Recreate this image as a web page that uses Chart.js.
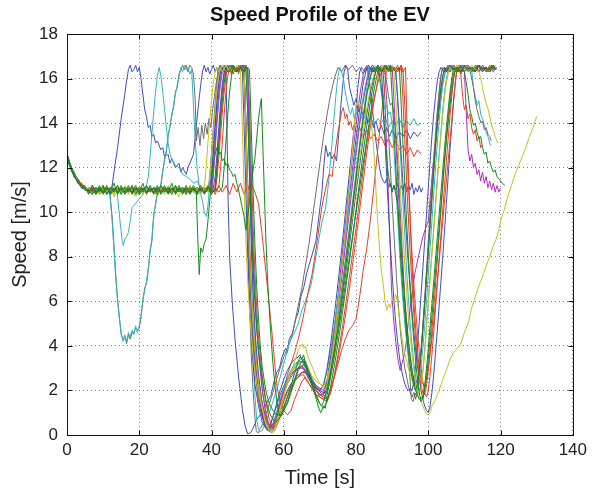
<!DOCTYPE html>
<html>
  <head>
    <meta charset="utf-8">
    <title>Speed Profile of the EV</title>
    <style>
      html, body { margin: 0; padding: 0; background: #fff; }
      #wrap { position: relative; width: 592px; height: 492px; }
    </style>
    <script src="https://cdn.jsdelivr.net/npm/chart.js@4.4.1/dist/chart.umd.min.js"></script>
  </head>
  <body>
  <div id="wrap"><canvas id="myChart" width="592" height="492"></canvas></div>

  <script type="text/javascript">
    // axis ticks
    const xTicks = [0, 20, 40, 60, 80, 100, 120, 140];
    const yTicks = [0, 2, 4, 6, 8, 10, 12, 14, 16, 18];

    // each run: flat list of time [s], speed [m/s] pairs
    const b1 = [0,12.5, 0.5,12.2, 1,12.0, 2,11.7, 3,11.4, 4,11.3, 5,11.1, 6,11.0, 7,11.1, 8,10.9, 9,11.0, 10,10.9, 11,11.1, 12,11.0, 12.5,11.2,
      13,11.8, 14,12.9, 15,14.2, 16,15.3, 16.5,15.9, 17,16.4, 17.5,16.6, 18,16.3, 18.5,16.4, 19,16.6, 19.5,16.3, 20,16.5, 20.5,16.0, 21,15.3, 21.5,14.6, 22,14.3, 22.5,13.8, 23,13.9, 23.5,13.4, 24,13.5, 24.5,13.1, 25,13.2, 26,12.8, 26.5,12.9, 27,12.5, 28,12.6, 28.5,12.2, 29,12.4, 30,12.0, 31,12.2, 31.5,11.8, 32,12.0, 33,11.7, 33.5,12.0, 34,12.2, 35,12.6, 35.5,13.4, 36,14.2, 36.5,15.0, 37,15.7, 37.5,16.3, 38,16.6, 38.5,16.3, 39,16.5, 39.5,16.2, 40,16.4, 40.5,16.6, 41,16.3, 41.5,16.5, 42,16.2, 42.5,16.5, 43,16.4, 43.5,16.6, 44,16.4,
      44.3,13.5, 44.6,10.5, 45,8.0, 45.8,5.8, 46.5,4.3, 47.5,2.6, 48.5,1.2, 49.3,0.4, 50,0.05, 50.8,0.1, 51.5,0.3, 52.5,0.7, 53.5,0.9, 54.5,1.2, 55.5,1.5, 56.5,1.8, 57.3,2.4, 58,2.8, 58.8,3.0, 59.5,3.5, 60.5,3.9, 61,3.7, 61.5,4.3, 62.5,4.6, 63.3,5.2, 64,5.5, 64.7,6.2, 65.5,6.6, 66.4,7.3, 67.5,7.9, 68.9,8.7, 69.5,9.5, 70,10.2, 70.5,10.8, 71,11.9, 71.6,13.0, 72.2,12.5, 72.8,12.7, 73.3,12.4, 74,12.6, 74.6,12.3, 75.2,13.5, 75.7,14.6, 76.2,15.5, 76.7,16.3, 77.2,16.6, 77.7,16.4, 78.2,15.6, 78.8,15.2, 79.4,14.8, 80,15.1, 80.6,14.5, 81.2,14.8, 81.8,14.4, 82.5,14.6, 83.2,14.0, 84,14.3, 84.8,13.8, 85.5,14.1, 86.3,13.6, 87,13.9, 87.8,13.5, 88.5,13.8, 89.3,13.4, 90,13.7, 91,13.3, 92,13.6, 93,13.4, 94,13.7, 95,13.3, 96,13.6, 97,13.4, 98,13.6];

    const k1 = [0,12.6, 0.5,12.4, 1,12.0, 2,11.7, 3,11.4, 4,11.3, 5,11.0, 6,11.1, 7,10.9, 8,11.0, 9,10.8, 10,11.0, 11,10.9, 11.8,11.0,
      12.5,9.8, 13,8.5, 13.5,7.2, 14,6.1, 14.5,5.3, 15,4.5, 15.5,4.3, 16,4.4, 16.5,4.1, 17,4.5, 17.5,4.3, 18,4.6, 18.5,4.6, 19,4.8, 19.5,4.7, 20,4.8, 20.5,5.3, 21,6.0, 21.5,6.6, 22,6.8, 22.5,7.4, 23,8.3, 23.5,8.7, 24,9.9, 24.5,10.3, 25,10.9, 25.5,11.1, 26,11.2, 26.5,11.8, 27,12.4, 27.5,12.7, 28,13.5, 28.5,13.8, 29,14.4, 29.5,14.7, 30,15.4, 30.5,15.6, 31,16.2, 31.5,16.4, 32,16.6, 32.5,16.4, 33,16.6, 33.5,16.3, 34,16.6, 34.5,16.5, 35,16.2,
      35.5,15.0, 35.8,13.2, 36.3,13.8, 36.8,13.0, 37.3,13.9, 37.8,13.3, 38.3,14.0, 38.8,13.5, 39.3,14.2, 39.8,13.8, 40.3,14.6, 40.8,15.2, 41.3,15.8, 41.8,16.3, 42.3,16.6, 43,16.3, 44,16.5, 45,16.3, 46,16.6, 47,16.4, 48,16.5, 49,16.3,
      49.4,14.5, 49.8,11.5, 50.2,8.0, 50.6,5.5, 51,3.6, 51.5,2.0, 52,0.8, 52.4,0.15, 53,0.1, 53.5,0.3, 54.2,0.5, 55,0.9, 56,1.4, 57,1.9, 58,2.5, 59,3.0, 60,3.5, 61,3.9, 62,4.3, 63,5.0, 64,5.8, 65,6.6, 66,7.6, 67,8.6, 68,9.8, 69,11.0, 70,12.2, 71,13.4, 72,14.4, 73,15.3, 74,16.0, 75,16.5, 76,16.3, 77,16.6, 78,16.4, 79,16.6, 80,16.3, 81,16.5, 82,16.2, 83,16.6, 84,16.4, 85,16.5, 86,16.3, 87,16.5, 88,16.2,
      88.5,15.0, 89,13.5, 89.5,12.0, 90,10.5, 90.5,9.0, 91,7.6, 91.5,6.3, 92,5.2, 92.5,4.3, 93,3.6, 93.5,3.0, 94,2.6, 94.5,2.2, 95,1.9, 95.5,1.7, 96,1.9, 96.5,1.6, 97,2.2, 97.5,2.9, 98,3.8, 98.5,4.9, 99,6.0, 99.5,7.2, 100,8.4, 100.5,9.6, 101,10.8, 101.5,12.0, 102,13.2, 102.5,14.3, 103,15.3, 103.5,16.1, 104,16.5, 105,16.3, 106,16.6, 107,16.4, 108,16.5, 109,16.2, 110,16.6, 111,16.3, 112,16.5, 113,16.3, 114,16.6, 115,16.4, 116,16.5, 117,16.3, 118,16.6, 118.5,16.4];

    const c1 = [0,12.7, 0.5,12.3, 1,12.1, 2,11.6, 3,11.5, 4,11.2, 5,11.2, 6,10.9, 7,11.0, 8,10.8, 9,11.0, 10,10.9, 11,11.0, 11.8,10.9,
      12.5,9.6, 13,8.3, 13.5,7.0, 14,6.0, 14.5,5.2, 15,4.6, 15.5,4.2, 16,4.5, 16.5,4.2, 17,4.6, 17.5,4.4, 18,4.7, 18.5,4.5, 19,4.9, 19.5,4.6, 20,4.9, 20.5,5.4, 21,6.1, 21.5,6.5, 22,6.9, 22.5,7.5, 23,8.2, 23.5,8.8, 24,9.8, 24.5,10.4, 25,10.8, 25.5,11.0, 26,11.3, 26.5,11.9, 27,12.3, 27.5,12.8, 28,13.4, 28.5,13.9, 29,14.3, 29.5,14.8, 30,15.3, 30.5,15.7, 31,16.1, 31.5,16.5, 32,16.3, 32.5,16.6, 33,16.4, 33.5,16.5, 34,16.2, 34.5,16.4,
      35,14.8, 35.5,13.2, 36,12.0, 36.5,11.3, 37,10.8, 37.5,10.5, 38,10.0, 38.6,9.8, 39,10.3, 39.5,11.2, 40,12.4, 40.5,13.5, 41,14.6, 41.5,15.5, 42,16.2, 42.5,16.5, 43,16.3, 44,16.6, 45,16.3, 46,16.5, 47,16.4, 48,16.6, 49,16.3,
      49.5,14.0, 50,11.0, 50.5,8.0, 51,5.5, 51.5,3.5, 52,1.8, 52.5,0.7, 53,0.25, 53.5,0.15, 54,0.2, 54.5,0.4, 55,0.6, 56,1.0, 57,1.5, 58,2.0, 59,2.6, 60,3.2, 61,3.8, 61.5,4.1, 62,4.3, 63,4.6, 64,5.0, 65,5.6, 66,6.0, 67.5,6.7, 68.5,7.6, 69.5,8.6, 70.5,9.5, 71.6,10.2, 72.5,11.5, 73.2,12.8, 73.8,14.0, 74.4,15.2, 75,16.1, 75.5,16.5, 76,16.3, 76.5,16.0, 77,15.4, 77.5,15.0, 78,14.6, 78.5,14.4, 79,14.7, 79.5,14.2, 80,14.5, 81,14.1, 82,14.4, 83,14.0, 84,14.3, 85,13.9, 86,14.2, 87,14.0, 88,14.3, 89,13.8, 90,14.1, 91,13.9, 92,14.2, 93,13.8, 94,14.1, 95,13.9, 96,14.2, 97,13.9, 98,14.0];

    const c2 = [0,12.4, 0.5,12.2, 1,11.9, 2,11.6, 3,11.3, 4,11.2, 5,11.0, 6,11.1, 7,10.9, 8,11.0, 9,10.9, 10,11.1, 11,10.8, 12,11.0, 13,10.9, 13.8,11.0,
      14.3,10.2, 14.8,9.4, 15.3,8.7, 15.6,8.5, 16,8.8, 16.5,8.9, 17,9.1, 17.5,9.6, 18,10.2, 18.5,10.3, 19,10.4, 20,10.6, 21,10.8, 22,11.2, 22.5,11.6, 23,12.5, 23.5,13.5, 24,14.5, 24.5,15.4, 25,16.1, 25.5,16.5, 26,16.1, 26.5,15.4, 27,14.6, 27.5,13.8, 28,13.1, 28.5,12.6, 29,12.4, 30,12.1, 31,12.0, 32,11.7, 33,11.6, 34,11.5, 35,11.3, 36,11.4, 36.6,11.2, 37,11.0, 38,10.9, 39,11.1, 40,10.9, 41,11.0,
      41.5,11.8, 42,13.0, 42.5,14.3, 43,15.4, 43.5,16.1, 44,16.5, 45,16.3, 46,16.6, 47,16.3, 48,16.5, 49,16.4, 49.5,16.6,
      50,14.5, 50.5,11.5, 51,8.5, 51.5,6.2, 52,4.5, 52.5,3.2, 53,2.2, 54,1.2, 55,0.6, 56,0.25, 56.5,0.2, 57,0.3, 58,0.7, 59,1.3, 60,1.9, 61,2.4, 62,2.8, 63,3.1, 64,3.3, 65,3.4, 66,3.1, 67,2.8, 68,2.5, 69,2.2, 70,2.0, 71,1.9, 72,2.4, 73,3.2, 74,4.2, 75,5.3, 76,6.5, 77,7.8, 78,9.1, 79,10.4, 80,11.8, 81,13.1, 82,14.4, 83,15.6, 84,16.5, 85,16.3, 86,16.6, 87,16.4, 88,16.5, 89,16.3, 90,16.6, 91,16.4,
      91.5,15.0, 92,13.5, 92.5,12.0, 93,10.4, 93.5,8.9, 94,7.4, 94.5,6.1, 95,5.0, 95.5,4.0, 96,3.2, 96.5,2.6, 97,2.2, 97.5,2.0, 98,2.3, 98.5,2.9, 99,3.8, 99.5,4.9, 100,6.0, 100.5,7.1, 101,8.2, 101.5,9.3, 102,10.4, 102.5,11.5, 103,12.6, 103.5,13.6, 104,14.6, 104.5,15.4, 105,16.0, 105.5,16.4, 106,16.5, 107,16.3, 108,16.6, 109,16.3, 110,16.5, 111,16.3, 112,16.4, 112.5,15.6, 113,15.2, 113.5,14.8, 114,15.0, 114.5,14.4, 115,14.2, 115.5,13.9, 116,13.6, 116.5,13.4, 117,13.1, 117.3,13.0];

    const g1 = [0,12.5, 0.5,12.2, 1,12.0, 2,11.6, 3,11.4, 4,11.2, 5,11.0, 6,11.0, 7,10.8, 8,11.1, 9,10.9, 10,11.2, 11,10.8, 12,11.1, 13,10.9, 14,11.2, 15,10.8, 16,11.1, 17,10.9, 18,11.2, 19,10.8, 20,11.1, 21,10.9, 22,11.2, 23,10.9, 24,11.1, 25,10.8, 26,11.2, 27,10.9, 28,11.1, 29,10.8, 30,11.2, 31,10.9, 32,11.1, 33,10.8, 34,11.1, 35,11.0, 35.8,10.9,
      36.2,8.8, 36.6,7.2, 37,8.4, 37.5,8.2, 38,8.6, 38.5,8.8, 39,9.6, 39.5,10.5, 40,11.4, 40.5,12.2, 41,12.6, 41.5,12.9, 42,12.6, 42.5,12.7, 43,12.3, 43.5,12.4, 44,12.1, 44.5,12.2, 45,11.9, 45.5,11.8, 46,11.6, 46.5,11.7, 47,11.3, 47.5,11.0, 48,10.6, 48.5,10.2, 49,9.8, 49.5,9.2, 50,9.8, 50.5,10.4, 51,11.2, 51.5,11.9, 52,12.4, 52.5,13.3, 53,14.2, 53.5,14.8, 53.8,15.1, 54.1,13.5, 54.5,11.5, 55,9.0, 55.5,7.0, 56,5.6, 56.5,4.3, 57,3.2, 57.5,2.3, 58,1.6, 58.5,1.1, 59,0.8, 59.5,0.9, 60,1.1, 61,1.4, 62,1.9, 63,2.4, 64,2.9, 65,3.1, 66,3.2, 67,2.8, 68,2.2, 69,1.6, 69.7,1.2, 70.2,1.0, 71,1.3, 71.5,1.2, 72,1.8, 73,2.6, 74,3.5, 75,4.5, 76,5.6, 77,6.7, 78,7.8, 79,8.9, 80,10.0, 81,11.1, 82,12.2, 83,13.3, 84,14.4, 85,15.5, 86,16.3, 86.5,16.5, 87,16.3, 88,16.6, 89,16.4, 90,16.5, 91,16.3, 92,16.5,
      92.5,14.8, 93,13.0, 93.5,11.3, 94,9.6, 94.5,8.0, 95,6.6, 95.5,5.3, 96,4.2, 96.5,3.3, 97,2.5, 97.5,1.9, 98,1.5, 98.5,1.7, 99,2.2, 99.5,3.0, 100,3.9, 100.5,4.9, 101,5.9, 101.5,6.9, 102,7.9, 102.5,8.9, 103,9.9, 103.5,10.9, 104,11.9, 104.5,12.9, 105,13.8, 105.5,14.6, 106,15.4, 106.5,16.0, 107,16.5, 108,16.3, 109,16.6, 110,16.3, 110.5,15.8, 111,15.3, 111.5,14.6, 112,14.3, 112.5,13.9, 113,14.0, 113.5,13.6, 114,13.3, 114.5,13.4, 115,12.9, 115.5,12.6, 116,12.7, 116.5,12.2, 117,12.3, 117.5,12.0, 118,11.8, 118.5,11.9, 119,11.6, 119.5,11.5, 120,11.4, 120.5,11.3, 121.2,11.2];

    const r1 = [0,12.6, 0.5,12.3, 1,12.1, 2,11.7, 3,11.4, 4,11.3, 5,11.1, 6,10.9, 7,11.0, 8,10.9, 9,11.1, 10,10.9, 12,11.0, 14,10.9, 16,11.1, 18,10.9, 20,11.0, 22,11.1, 24,10.9, 26,11.0, 28,11.1, 30,10.9, 32,11.0, 34,11.1, 36,10.9, 38,11.0, 40,11.1, 41,10.8, 42,11.2, 43,10.9, 44,11.2, 45,10.8, 46,11.3, 47,10.9, 48,11.3, 49,10.8, 50,11.2, 50.5,11.0, 51,11.3,
      52,10.9, 53,10.4, 54,9.0, 55,7.4, 56,5.8, 56.9,4.3, 57.5,3.2, 58.2,2.1, 59,1.5, 60,1.1, 61,0.9, 62,1.1, 63,1.6, 64,2.0, 65,2.4, 66,2.6, 67,2.3, 68,2.1, 69,2.0, 70,1.8, 71,1.8, 72,1.6, 73,2.1, 74,2.6, 75,3.2, 76,3.8, 77,4.3, 78,4.7, 79,4.9, 80,5.2, 81,6.2, 82,7.4, 83,8.4, 84,9.7, 85,11.2, 86,12.8, 87,14.3, 88,15.7, 88.5,16.5, 89,16.3, 89.5,16.6, 90,16.3, 90.5,16.5, 91,16.4, 91.5,16.6, 92,16.3, 92.5,16.5, 93,16.3, 93.7,16.5,
      94,14.5, 94.5,12.0, 95,9.6, 95.5,7.6, 96,6.0, 96.5,4.8, 97,3.8, 97.5,3.0, 98,2.5, 98.5,2.3, 99,2.2, 99.5,2.5, 100,3.0, 100.5,3.6, 101,4.3, 101.5,5.1, 102,6.0, 102.5,6.9, 103,7.8, 103.5,8.7, 104,9.6, 104.5,10.5, 105,11.4, 105.5,12.3, 106,13.2, 106.5,14.1, 107,15.0, 107.5,15.8, 108,16.5, 109,16.3, 110,16.6, 111,16.3, 112,16.5, 113,16.3, 114,16.6, 115,16.4, 116,16.5, 117,16.3, 118,16.6, 119,16.4];

    const b2 = [0,12.5, 1,12.0, 2,11.6, 3,11.4, 4,11.2, 5,11.0, 6,11.1, 8,10.9, 10,11.0, 12,10.9, 14,11.1, 16,10.9, 18,11.0, 20,10.9, 22,11.1, 24,11.0, 26,10.9, 28,11.1, 30,10.9, 32,11.0, 34,11.1, 36,10.9, 38,11.0, 39,11.1, 40,11.5, 40.5,12.6, 41,13.8, 41.5,14.9, 42,15.8, 42.5,16.4, 43,16.5, 44,16.3, 45,16.6, 46,16.3, 47,16.5, 48,16.4, 48.5,16.6,
      49,14.0, 49.5,11.0, 50,8.2, 50.5,6.0, 51,4.4, 51.5,3.2, 52,2.3, 53,1.3, 54,0.6, 55,0.3, 56,0.4, 57,0.8, 58,1.3, 59,1.8, 60,2.2, 61,2.5, 62,2.7, 63,2.9, 64,3.0, 65,3.1, 66,2.8, 67,2.5, 68,2.2, 69,2.0, 70,1.8, 71,1.8, 72,2.5, 73,3.6, 74,4.8, 75,6.1, 76,7.5, 77,8.9, 78,10.4, 79,11.9, 80,13.3, 81,14.6, 82,15.8, 83,16.5, 83.5,16.2, 84,15.4, 84.5,14.6, 85,14.0, 85.5,13.2, 86,12.6, 86.5,12.0, 87,11.6, 87.5,11.4, 88,11.3, 88.5,11.5, 89,11.1, 89.5,11.3, 90,10.9, 90.5,11.2, 91,11.0, 91.5,11.3, 92,10.9, 92.5,11.2, 93,11.0, 93.5,11.3, 94,10.9, 94.5,11.2, 95,11.0, 95.5,11.3, 96,10.8, 96.5,11.1, 97,10.9, 97.5,11.2, 98,10.9, 98.5,11.1];

    const r2 = [0,12.4, 1,12.0, 2,11.7, 3,11.3, 4,11.2, 5,11.1, 6,10.9, 8,11.0, 10,11.1, 12,10.9, 14,11.0, 16,11.1, 18,10.9, 20,11.0, 22,10.9, 24,11.1, 26,11.0, 28,10.9, 30,11.1, 32,10.9, 34,11.0, 36,11.1, 38,10.9, 40,11.0, 41,11.2, 41.5,12.2, 42,13.4, 42.5,14.5, 43,15.5, 43.5,16.2, 44,16.5, 45,16.3, 46,16.6, 47,16.3, 48,16.5, 49,16.4,
      49.5,13.8, 50,10.8, 50.5,8.0, 51,5.8, 51.5,4.2, 52,3.0, 53,1.7, 54,1.0, 55,0.6, 56,0.4, 56.5,0.4, 57,0.5, 58,0.9, 59,1.5, 60,2.1, 61,2.7, 62,3.2, 63,3.7, 63.5,4.0, 64,4.3, 65,5.0, 66,5.8, 67,6.6, 67.8,7.2, 68.5,7.9, 69.5,9.0, 70.5,10.2, 71.5,11.0, 72.5,11.7, 73.4,11.6, 74,12.5, 75,13.6, 76,14.5, 76.5,14.7, 77,14.2, 77.5,14.4, 78,13.9, 78.5,14.1, 79,13.7, 79.5,13.9, 80,13.6, 81,13.8, 82,13.4, 83,13.7, 84,13.3, 85,13.5, 86,13.2, 87,13.4, 88,13.0, 89,13.3, 90,12.9, 91,13.2, 92,12.8, 93,13.0, 94,12.6, 95,12.9, 96,12.5, 97,12.8, 98,12.6];

    const y1 = [0,12.5, 1,12.1, 2,11.7, 3,11.3, 4,11.2, 5,11.0, 6,11.1, 7,10.8, 8,11.1, 9,10.8, 10,11.2, 11,10.9, 12,11.1, 13,10.8, 14,11.2, 15,10.9, 16,11.1, 17,10.8, 18,11.2, 19,10.9, 20,11.1, 21,10.8, 22,11.2, 23,10.9, 24,11.0, 25,10.8, 26,11.2, 27,10.9, 28,11.1, 29,10.8, 30,11.2, 31,10.9, 32,11.1, 33,10.8, 34,11.2, 35,10.9, 36,11.1, 37,10.8, 38,11.1,
      38.5,12.0, 39,13.1, 39.5,14.1, 40,15.0, 40.5,15.8, 41,16.3, 41.5,16.5, 42,16.3, 43,16.6, 44,16.3, 45,16.5, 46,16.3, 47,16.6, 48,16.4,
      48.5,14.0, 49,11.2, 49.5,8.8, 50,7.0, 50.5,5.6, 51,4.5, 51.5,3.6, 52,2.9, 53,1.9, 54,1.2, 55,0.6, 56,0.25, 57,0.1, 57.5,0.2, 58,0.5, 59,1.1, 60,1.7, 61,2.3, 62,2.8, 63,3.3, 64,3.8, 65,4.1, 65.5,3.9, 66,4.0, 66.5,3.6, 67,3.4, 68,3.0, 69,2.6, 70,2.3, 71,2.1, 71.5,2.0, 72,2.3, 73,3.2, 74,4.4, 75,5.8, 76,7.4, 77,9.1, 78,10.9, 79,12.8, 79.5,13.9, 80,14.8, 80.5,15.0, 81,14.7, 81.5,14.9, 82,14.6, 82.5,14.7, 83,14.4, 83.5,14.5, 84,14.1, 84.5,13.6, 85,12.6, 85.5,11.0, 86,9.6, 86.5,8.4, 87,7.4, 87.6,6.7, 88,6.0, 88.5,5.6, 89,5.9, 89.5,5.7, 90,6.1, 90.5,6.0, 91,6.3, 91.5,5.9, 92,5.3, 92.5,4.6, 93,4.0, 94,3.3, 95,2.7, 96,2.2, 97,1.8, 98,1.5, 99,1.1, 99.5,0.95, 100,0.9, 100.5,1.0, 101,1.3, 102,1.6, 103,2.0, 104,2.5, 105,2.9, 106,3.4, 107,3.7, 108,3.9, 109,4.1, 110,4.6, 111,5.0, 112,5.7, 113,6.2, 114,6.7, 115,7.1, 116,7.6, 117,8.0, 118,8.5, 118.8,8.8, 119.5,9.2, 120,9.6, 121,10.1, 122,10.7, 123,11.2, 124,11.7, 125,12.1, 126,12.5, 127,12.9, 128,13.4, 129,13.8, 130,14.3];

    const m1 = [0,12.6, 1,12.0, 2,11.7, 3,11.4, 4,11.1, 5,11.1, 6,10.9, 8,11.0, 10,10.9, 12,11.1, 14,10.9, 16,11.0, 18,11.1, 20,10.9, 22,11.0, 24,10.9, 26,11.1, 28,11.0, 30,10.9, 32,11.1, 34,10.9, 36,11.0, 38,11.1, 40,10.9, 40.5,11.6, 41,12.8, 41.5,14.0, 42,15.0, 42.5,15.8, 43,16.3, 43.5,16.5, 44.5,16.3, 45.5,16.6, 46.5,16.3, 47.5,16.5, 48.5,16.4, 49,16.6,
      49.5,14.2, 50,11.4, 50.5,8.8, 51,6.6, 51.5,4.9, 52,3.6, 53,2.0, 54,1.0, 55,0.4, 56,0.2, 57,0.4, 58,0.9, 59,1.5, 60,2.0, 61,2.4, 62,2.7, 63,2.9, 64,3.0, 65.5,3.0, 66.5,2.7, 67.5,2.4, 68.5,2.2, 69.5,2.0, 71,1.8, 72,2.2, 73,3.3, 74,4.7, 75,6.2, 76,7.8, 77,9.4, 78,11.0, 79,12.5, 80,13.9, 81,15.2, 82,16.2, 82.6,16.5, 83.5,16.3, 84.5,16.6, 85.5,16.4, 86.5,16.5, 87.5,16.3,
      88,15.0, 88.5,12.8, 89,10.5, 89.5,8.3, 89.8,6.6, 90.3,5.4, 90.8,4.5, 91.5,3.5, 92.2,2.9, 92.7,3.2, 93.2,3.5, 93.7,3.9, 94.3,4.8, 95,5.7, 95.6,6.5, 96.2,7.2, 97,7.8, 97.8,8.4, 98.5,8.9, 99.3,9.3, 100,9.6, 100.5,10.6, 101,11.5, 101.5,12.4, 102,13.2, 102.5,14.0, 103,14.6, 103.5,15.2, 104,15.8, 104.5,16.2, 105.5,16.5, 106,16.3, 107,16.6, 108,16.4, 109,16.5, 110,16.3, 110.5,14.5, 111,12.8, 111.5,12.3, 112,12.6, 112.5,12.0, 113,12.2, 113.5,11.7, 114,11.9, 114.5,11.4, 115,11.8, 115.5,11.3, 116,11.6, 116.5,11.1, 117,11.4, 117.5,11.0, 118,11.3, 118.5,10.9, 119,11.2, 119.5,10.9, 120,11.1];

    const k2 = [0,12.5, 1,12.1, 2,11.6, 3,11.4, 4,11.2, 5,11.0, 6,11.1, 8,10.9, 10,11.0, 12,11.1, 14,10.9, 16,11.0, 18,10.9, 20,11.1, 22,11.0, 24,10.9, 26,11.1, 28,10.9, 30,11.0, 32,11.1, 34,10.9, 36,11.0, 38,10.9, 39,11.0, 39.5,11.6, 40,12.7, 40.5,13.8, 41,14.9, 41.5,15.8, 42,16.4, 42.5,16.6, 43,16.3, 44,16.5, 45,16.3, 46,16.6, 47,16.4, 48,16.5, 49,16.3,
      49.5,13.5, 50,10.5, 50.5,7.8, 51,5.7, 51.5,4.1, 52,2.9, 53,1.5, 54,0.8, 55,0.35, 56,0.15, 57,0.3, 58,0.8, 59,1.4, 60,2.0, 61,2.5, 62,2.8, 63,3.0, 64,3.2, 65,3.3, 66,3.3, 67,2.9, 68,2.4, 69,2.0, 70,1.7, 71,1.6, 72,2.0, 73,2.9, 74,4.0, 75,5.2, 76,6.4, 77,7.7, 78,9.0, 79,10.3, 80,11.6, 81,12.9, 82,14.2, 83,15.3, 84,16.1, 85,16.5, 86,16.3, 87,16.6, 88,16.4, 88.5,15.8, 89,15.2, 89.5,14.8, 90,14.9, 90.5,14.4, 91,13.6, 91.5,12.4, 92,10.8, 92.5,9.2, 93,7.6, 93.5,6.1, 94,4.7, 94.5,3.5, 95,2.4, 95.3,1.6, 95.8,1.5, 96.3,1.9, 96.8,1.7, 97.3,2.4, 97.8,3.3, 98.3,4.4, 98.8,5.6, 99.3,6.9, 99.8,8.2, 100.3,9.5, 100.8,10.8, 101.3,12.0, 101.8,13.1, 102.3,14.2, 102.8,15.1, 103.3,15.9, 103.8,16.4, 104.5,16.5, 105.5,16.3, 106.5,16.6, 107.5,16.3, 108.5,16.5, 109.5,16.3, 110.5,16.6, 111.5,16.4, 112,16.0, 112.5,15.6, 113,15.0, 113.5,14.6, 114,14.3, 114.6,14.0, 115,14.1, 115.5,13.7, 116,13.8, 116.5,13.5, 117,13.4, 117.4,13.2];

    const g2 = [0,12.6, 1,12.0, 2,11.7, 3,11.3, 4,11.2, 5,11.1, 6,10.9, 7,11.2, 8,10.8, 9,11.1, 10,10.9, 11,11.2, 12,10.8, 13,11.1, 14,10.9, 15,11.2, 16,10.8, 17,11.1, 18,10.9, 19,11.2, 20,10.8, 21,11.1, 22,10.9, 23,11.2, 24,10.8, 25,11.1, 26,10.9, 27,11.2, 28,10.8, 29,11.1, 30,10.9, 31,11.2, 32,10.8, 33,11.1, 34,10.9, 35,11.2, 36,10.8, 37,11.1, 38,10.9, 39,11.2, 40,10.8, 41,11.1, 42,10.9, 43,11.1,
      43.5,12.0, 44,13.2, 44.5,14.4, 45,15.4, 45.5,16.1, 46,16.5, 47,16.3, 48,16.6, 49,16.3, 50,16.5, 50.5,16.4,
      51,13.8, 51.5,11.0, 52,8.6, 52.5,6.7, 53,5.2, 53.5,4.0, 54,3.1, 55,2.0, 56,1.4, 57,1.1, 58,0.9, 59,0.9, 60,1.1, 61,1.5, 62,2.0, 63,2.5, 64,3.0, 65,3.3, 65.5,3.4, 66,3.1, 67,2.6, 68,2.1, 69,1.7, 70,1.4, 71,1.2, 72,1.5, 73,2.2, 74,3.1, 75,4.1, 76,5.2, 77,6.4, 78,7.6, 79,8.8, 80,10.1, 81,11.4, 82,12.7, 83,13.9, 84,15.0, 85,15.9, 85.5,16.4, 86,16.5, 86.5,16.2, 87,15.6, 87.5,14.6, 88,13.4, 88.5,12.4, 89,11.6, 89.5,11.2, 90,11.0, 90.5,11.2, 91,10.8, 91.5,10.4, 92,9.4, 92.5,8.2, 93,7.0, 93.5,6.0, 94,5.0, 94.5,4.2, 95,3.5, 95.5,2.9, 96,2.4, 96.5,2.0, 97,1.8, 97.5,1.6, 98,1.7, 98.5,1.6, 99,2.0, 99.5,2.6, 100,3.4, 100.5,4.3, 101,5.3, 101.5,6.3, 102,7.3, 102.5,8.3, 103,9.3, 103.5,10.3, 104,11.3, 104.5,12.3, 105,13.2, 105.5,14.0, 106,14.8, 106.5,15.5, 107,16.0, 107.5,16.4, 108,16.5, 109,16.3, 110,16.6, 111,16.4, 112,16.5, 113,16.3, 114,16.6, 115,16.4, 116,16.5, 117,16.3, 118,16.6, 118.5,16.4];

    const b3 = [0,12.4, 1,12.0, 2,11.6, 3,11.4, 4,11.1, 5,11.0, 6,11.1, 8,10.9, 10,11.1, 12,10.9, 14,11.0, 16,10.9, 18,11.1, 20,11.0, 22,10.9, 24,11.1, 26,10.9, 28,11.0, 30,11.1, 32,10.9, 34,11.0, 36,10.9, 38,11.1, 40,10.9, 40.5,11.1, 41,11.6, 41.5,12.6, 42,13.8, 42.5,14.9, 43,15.8, 43.5,16.3, 44,16.5, 45,16.3, 46,16.6, 47,16.3, 48,16.5, 49,16.4, 50,16.5,
      50.3,14.0, 50.7,10.8, 51.1,8.2, 51.6,6.0, 52.2,4.3, 53,2.7, 54,1.5, 55,0.7, 56,0.25, 56.5,0.1, 57,0.2, 58,0.6, 59,1.1, 60,1.6, 61,2.0, 62,2.3, 63,2.5, 64,2.7, 65,2.8, 66,2.8, 67,2.6, 68,2.3, 69,2.1, 70,2.0, 71,1.9, 71.5,1.9, 72,2.2, 73,2.9, 74,3.8, 75,4.8, 76,5.9, 77,7.1, 78,8.3, 79,9.6, 80,10.9, 81,12.1, 82,13.3, 83,14.4, 84,15.4, 85,16.1, 86,16.5, 87,16.3, 88,16.6, 89,16.4, 90,16.5, 91,16.3,
      91.5,15.2, 92,13.9, 92.5,12.6, 93,11.3, 93.5,10.0, 94,8.8, 94.5,7.6, 95,6.5, 95.5,5.5, 96,4.6, 96.5,3.8, 97,3.1, 97.5,2.5, 98,2.0, 98.5,1.6, 99,1.3, 99.5,1.1, 100,1.0, 100.5,1.3, 101,1.9, 101.5,2.7, 102,3.7, 102.5,4.7, 103,5.8, 103.5,6.9, 104,8.0, 104.5,9.2, 105,10.4, 105.5,11.6, 106,12.8, 106.5,13.9, 107,15.0, 107.5,15.9, 108,16.5, 109,16.3, 110,16.6, 111,16.3, 112,16.5, 113,16.4, 114,16.6, 115,16.3, 116,16.5, 117,16.3, 118,16.5, 118.5,16.4];

    const r3 = [0,12.5, 1,12.1, 2,11.6, 3,11.5, 4,11.2, 5,11.0, 6,11.0, 8,11.1, 10,10.9, 12,11.0, 14,11.1, 16,10.9, 18,11.0, 20,11.1, 22,10.9, 24,11.0, 26,11.1, 28,10.9, 30,11.0, 32,10.9, 34,11.1, 36,10.9, 38,11.0, 40,11.1, 41,10.9, 41.5,11.5, 42,12.4, 42.5,13.5, 43,14.5, 43.5,15.4, 44,16.1, 44.5,16.5, 45,16.3, 45.5,16.6, 46,16.2, 46.5,16.5, 47,16.3, 47.5,16.6, 48,16.4, 48.5,16.5, 49,16.2, 49.5,16.6, 50,16.4,
      50.5,14.8, 51,12.0, 51.5,9.4, 52,7.3, 52.5,5.7, 53,4.4, 54,2.7, 55,1.5, 56,0.7, 57,0.3, 57.5,0.2, 58,0.4, 59,0.8, 60,1.3, 61,1.7, 62,2.1, 63,2.4, 64,2.6, 65,2.8, 66,2.9, 66.5,2.9, 67,2.7, 68,2.3, 69,2.0, 70,1.8, 71,1.7, 72,1.6, 73,2.0, 74,2.7, 75,3.6, 76,4.6, 77,5.7, 78,6.9, 79,8.1, 80,9.3, 81,10.6, 82,11.9, 83,13.1, 84,14.2, 85,15.1, 86,15.8, 87,16.3, 87.5,16.5, 88,16.3, 89,16.6, 90,16.3, 91,16.5, 92,16.4, 92.5,16.6,
      93,15.0, 93.5,13.2, 94,11.4, 94.5,9.7, 95,8.1, 95.5,6.7, 96,5.4, 96.5,4.3, 97,3.4, 97.5,2.7, 98,2.2, 98.5,1.9, 98.8,1.8, 99.3,2.0, 99.8,2.6, 100.3,3.4, 100.8,4.3, 101.3,5.3, 101.8,6.3, 102.3,7.4, 102.8,8.5, 103.3,9.6, 103.8,10.7, 104.3,11.8, 104.8,12.9, 105.3,13.9, 105.8,14.8, 106.3,15.5, 106.8,16.1, 107.5,16.5, 108,16.3, 108.5,16.6, 109,16.2, 109.5,15.2, 110,14.6, 110.5,14.8, 111,14.2, 111.5,14.4, 112,13.8, 112.5,13.5, 113,13.7, 113.5,13.2, 114,13.4, 114.5,12.9, 115,13.0];

    const c3 = [0,12.6, 1,12.1, 2,11.8, 3,11.4, 4,11.3, 5,11.1, 6,11.0, 7,10.8, 8,11.1, 9,10.9, 10,11.0, 12,10.8, 14,11.1, 16,10.9, 18,11.0, 20,10.8, 22,11.1, 24,10.9, 26,11.0, 28,10.9, 30,11.1, 32,10.9, 34,11.0, 36,10.8, 38,11.1, 39,10.9, 40,11.0, 40.5,11.8, 41,13.0, 41.5,14.2, 42,15.2, 42.5,16.0, 43,16.5, 44,16.3, 45,16.6, 46,16.3, 47,16.5, 48,16.3, 49,16.6, 49.5,16.4, 50,16.5,
      50.4,14.8, 50.8,12.2, 51.2,9.8, 51.7,7.6, 52.3,5.6, 53,3.8, 54,2.1, 55,1.0, 56,0.3, 56.5,0.3, 57,0.5, 58,1.0, 59,1.6, 60,2.1, 61,2.6, 62,2.9, 63,3.2, 64,3.3, 65,3.3, 66,3.0, 67,2.7, 68,2.4, 69,2.2, 70,2.1, 70.5,2.1, 71,2.3, 72,2.9, 73,3.8, 74,4.9, 75,6.1, 76,7.4, 77,8.8, 78,10.2, 79,11.6, 80,12.9, 81,14.1, 82,15.2, 83,16.0, 83.5,16.5, 84,16.3, 85,16.6, 86,16.4, 86.5,16.0, 87,15.4, 87.5,15.0, 88,14.6, 88.5,14.8, 89,14.4, 89.5,14.5, 90,14.0,
      90.5,12.8, 91,11.3, 91.5,9.8, 92,8.4, 92.5,7.1, 93,6.0, 93.5,5.0, 94,4.2, 94.5,3.5, 95,3.0, 95.5,2.6, 96,2.4, 96.5,2.2, 97,2.2, 97.5,2.5, 98,3.1, 98.5,3.9, 99,4.9, 99.5,6.0, 100,7.2, 100.5,8.4, 101,9.6, 101.5,10.8, 102,12.0, 102.5,13.1, 103,14.1, 103.5,15.0, 104,15.7, 104.5,16.2, 105,16.5, 106,16.3, 107,16.6, 108,16.4, 109,16.5, 110,16.3, 111,16.6, 112,16.3, 113,16.5, 114,16.4, 115,16.6, 116,16.3, 117,16.5, 118,16.4, 118.5,16.6];

    const g3 = [0,12.5, 1,12.1, 2,11.6, 3,11.4, 4,11.1, 5,11.1, 6,10.8, 7,11.2, 8,10.9, 9,11.2, 10,10.8, 11,11.1, 12,10.9, 13,11.3, 14,10.8, 15,11.1, 16,10.9, 17,11.2, 18,10.8, 19,11.1, 20,10.9, 21,11.3, 22,10.8, 23,11.1, 24,10.9, 25,11.2, 26,10.8, 27,11.1, 28,10.9, 29,11.3, 30,10.8, 31,11.1, 32,10.9, 33,11.2, 34,10.8, 35,11.1, 36,10.9, 37,11.2, 38,10.8, 39,11.1, 40,10.9, 41,11.0,
      41.5,11.9, 42,13.0, 42.5,14.1, 43,15.0, 43.5,15.8, 44,16.4, 45,16.3, 46,16.6, 47,16.3, 48,16.5, 49,16.3, 49.5,16.5,
      50,14.6, 50.5,11.9, 51,9.5, 51.5,7.5, 52,6.0, 52.5,4.8, 53,3.8, 54,2.5, 55,1.6, 56,1.0, 57,0.7, 58,0.6, 59,0.8, 60,1.2, 61,1.7, 62,2.2, 63,2.8, 64,3.3, 64.5,3.5, 65,3.4, 65.5,3.6, 66,3.2, 67,2.7, 68,2.2, 69,1.8, 70,1.4, 70.5,1.3, 71,1.5, 72,2.0, 73,2.8, 74,3.8, 75,4.9, 76,6.1, 77,7.4, 78,8.7, 79,10.1, 80,11.5, 81,12.9, 82,14.2, 83,15.3, 84,16.1, 84.5,16.5, 85,16.3, 86,16.6, 87,16.3, 88,16.5, 89,16.4, 89.5,16.6,
      90,15.2, 90.5,13.6, 91,12.0, 91.5,10.4, 92,8.9, 92.5,7.6, 93,6.4, 93.5,5.4, 94,4.5, 94.5,3.7, 95,3.1, 95.5,2.6, 96,2.2, 96.5,2.0, 97,2.3, 97.5,2.9, 98,3.7, 98.5,4.7, 99,5.8, 99.5,7.0, 100,8.2, 100.5,9.4, 101,10.6, 101.5,11.8, 102,12.9, 102.5,13.9, 103,14.8, 103.5,15.6, 104,16.1, 104.5,16.5, 105,16.3, 106,16.6, 107,16.4, 108,16.5, 109,16.3, 110,16.6, 111,16.4, 112,16.5, 113,16.3, 114,16.6, 115,16.3, 116,16.5, 117,16.4, 118,16.6, 118.5,16.4];

    const y2 = [0,12.5, 1,12.0, 2,11.7, 3,11.4, 4,11.2, 5,11.0, 6,11.1, 7,10.8, 8,11.1, 9,10.8, 10,11.2, 11,10.9, 12,11.1, 13,10.7, 14,11.0, 15,10.8, 16,11.2, 17,10.9, 18,11.0, 19,10.7, 20,11.1, 21,10.8, 22,11.2, 23,10.9, 24,11.0, 25,10.7, 26,11.1, 27,10.8, 28,11.2, 29,10.9, 30,11.0, 31,10.7, 32,11.1, 33,10.8, 34,11.2, 35,10.9, 36,11.0, 37,10.8, 38,11.1, 39,10.9, 39.5,11.5,
      40,12.5, 40.5,13.6, 41,14.6, 41.5,15.5, 42,16.1, 42.5,16.5, 43,16.3, 44,16.6, 45,16.3, 46,16.5, 47,16.3, 48,16.6, 49,16.4,
      49.4,14.6, 49.8,12.0, 50.2,9.6, 50.7,7.4, 51.3,5.4, 52,3.8, 53,2.3, 54,1.2, 55,0.5, 56,0.2, 56.8,0.1, 57.5,0.3, 58.5,0.9, 59.5,1.5, 60.5,2.1, 61.5,2.6, 62.5,2.9, 63.5,3.1, 64.5,3.2, 65.5,3.4, 66,3.2, 67,2.9, 68,2.6, 69,2.4, 70,2.3, 71,2.2, 72,2.5, 73,3.2, 74,4.1, 75,5.1, 76,6.2, 77,7.4, 78,8.6, 79,9.9, 80,11.2, 81,12.4, 82,13.6, 83,14.7, 84,15.6, 85,16.2, 85.5,16.5, 86.5,16.3, 87.5,16.6, 88.5,16.3, 89.5,16.5, 90.5,16.4,
      91,15.0, 91.5,13.4, 92,11.8, 92.5,10.3, 93,8.9, 93.5,7.6, 94,6.4, 94.5,5.3, 95,4.4, 95.5,3.6, 96,2.9, 96.5,2.4, 97,2.0, 97.5,1.8, 98,2.1, 98.5,2.8, 99,3.7, 99.5,4.8, 100,5.9, 100.5,7.0, 101,8.1, 101.5,9.2, 102,10.3, 102.5,11.4, 103,12.5, 103.5,13.5, 104,14.4, 104.5,15.2, 105,15.8, 105.5,16.2, 106,16.5, 107,16.3, 108,16.6, 109,16.4, 110,16.5, 111,16.3, 112,16.6, 113,16.4, 114,16.3, 114.5,16.0, 115,15.6, 115.5,15.2, 116,14.9, 116.6,14.6, 117,14.3, 117.5,13.9, 118,13.7, 118.5,13.4, 119,13.2, 119.3,13.1];

    const m2 = [0,12.4, 1,12.0, 2,11.6, 3,11.4, 4,11.2, 5,11.1, 6,10.9, 8,11.1, 10,10.9, 12,11.0, 14,11.1, 16,10.9, 18,11.0, 20,10.9, 22,11.1, 24,10.9, 26,11.0, 28,11.1, 30,10.9, 32,11.0, 34,10.9, 36,11.1, 38,10.9, 40,11.0, 40.5,11.9, 41,13.1, 41.5,14.3, 42,15.3, 42.5,16.0, 43,16.5, 44,16.3, 45,16.6, 46,16.4, 47,16.5, 48,16.3, 49,16.6, 50,16.4,
      50.4,14.3, 50.8,11.6, 51.3,9.0, 51.8,6.9, 52.4,5.1, 53,3.7, 54,2.1, 55,1.0, 56,0.4, 56.2,0.3, 57,0.5, 58,0.9, 59,1.4, 60,1.9, 61,2.3, 62,2.6, 63,2.8, 64,3.0, 65,3.1, 66,2.9, 67,2.6, 68,2.4, 69,2.2, 70,2.1, 71,2.0, 72,2.4, 73,3.3, 74,4.4, 75,5.7, 76,7.0, 77,8.4, 78,9.8, 79,11.2, 80,12.6, 81,13.9, 82,15.0, 83,15.9, 84,16.5, 85,16.3, 86,16.6, 87,16.4, 88,16.5, 89,16.3, 90,16.5,
      90.5,15.0, 91,13.3, 91.5,11.6, 92,10.0, 92.5,8.6, 93,7.3, 93.5,6.1, 94,5.1, 94.5,4.2, 95,3.5, 95.5,2.9, 96,2.5, 96.5,2.3, 97,2.5, 97.5,3.0, 98,3.8, 98.5,4.8, 99,5.9, 99.5,7.1, 100,8.3, 100.5,9.5, 101,10.7, 101.5,11.9, 102,13.0, 102.5,14.0, 103,14.9, 103.5,15.6, 104,16.1, 104.5,16.4, 105,16.5, 106,16.3, 107,16.6, 108,16.4, 109,16.5, 110,16.3, 111,16.6, 112,16.4, 113,16.5, 114,16.3, 115,16.6, 116,16.4, 117,16.5, 118,16.3, 118.5,16.5];

    const b4 = [0,12.6, 1,12.1, 2,11.7, 3,11.5, 4,11.2, 5,11.0, 6,11.0, 8,10.9, 10,11.1, 12,10.9, 14,11.0, 16,11.1, 18,10.9, 20,11.0, 22,11.1, 24,10.9, 26,11.0, 28,10.9, 30,11.1, 32,11.0, 34,10.9, 36,11.1, 38,10.9, 39.5,11.0, 40,11.6, 40.5,12.8, 41,14.0, 41.5,15.0, 42,15.8, 42.5,16.3, 43,16.5, 43.5,16.3, 44.5,16.6, 45.5,16.3, 46.5,16.5, 47.5,16.3, 48.5,16.6, 49,16.4,
      49.4,14.4, 49.8,11.7, 50.2,9.2, 50.7,7.0, 51.2,5.3, 52,3.5, 53,1.9, 54,0.9, 55,0.35, 55.5,0.2, 56,0.3, 57,0.8, 58,1.4, 59,2.0, 60,2.5, 61,2.9, 62,3.2, 63,3.4, 64,3.5, 64.5,3.6, 65,3.4, 66,3.1, 67,2.7, 68,2.4, 69,2.1, 70,2.0, 71,2.2, 72,3.0, 73,4.1, 74,5.4, 75,6.8, 76,8.3, 77,9.9, 78,11.5, 79,13.1, 80,14.6, 80.5,15.6, 81,16.3, 81.5,16.5, 82.5,16.3, 83.5,16.6, 84.5,16.3, 85.5,16.5, 86.5,16.3, 87,16.5,
      87.5,15.0, 88,13.3, 88.5,11.6, 89,10.0, 89.5,8.5, 90,7.2, 90.5,6.0, 91,5.0, 91.5,4.2, 92,3.5, 92.5,3.0, 93,2.6, 93.5,2.3, 94,2.1, 94.5,2.0, 95,2.1, 95.5,2.0, 96,2.4, 96.5,3.1, 97,4.0, 97.5,5.1, 98,6.3, 98.5,7.5, 99,8.7, 99.5,9.9, 100,11.1, 100.5,12.3, 101,13.4, 101.5,14.4, 102,15.2, 102.5,15.9, 103,16.3, 103.5,16.5, 104.5,16.3, 105.5,16.6, 106.5,16.4, 107.5,16.5, 108.5,16.3, 109.5,16.6, 110.5,16.4, 111.5,16.5, 112.5,16.3, 113.5,16.6, 114.5,16.4, 115.5,16.5, 116.5,16.3, 117.5,16.6, 118,16.4];

    const r4 = [0,12.5, 1,12.0, 2,11.8, 3,11.4, 4,11.2, 5,11.1, 6,10.9, 8,11.0, 10,11.1, 12,10.9, 14,11.0, 16,10.9, 18,11.1, 20,11.0, 22,10.9, 24,11.0, 26,11.1, 28,10.9, 30,11.0, 32,11.1, 34,10.9, 36,11.0, 38,11.1, 40,10.9, 41,11.0, 42,11.1, 42.5,12.0, 43,13.2, 43.5,14.4, 44,15.4, 44.5,16.1, 45,16.5, 45.5,16.2, 46,16.6, 46.5,16.3, 47,16.5, 47.5,16.2, 48,16.6, 48.5,16.4, 49,16.5,
      49.5,14.2, 50,11.3, 50.5,8.6, 51,6.5, 51.5,5.0, 52,3.9, 53,2.4, 54,1.4, 55,0.8, 56,0.4, 57,0.3, 58,0.6, 59,1.0, 60,1.5, 61,1.9, 62,2.2, 63,2.4, 64,2.6, 65,2.7, 65.5,2.7, 66,2.5, 67,2.3, 68,2.0, 69,1.8, 70,1.7, 71,1.6, 72,1.5, 73,1.9, 74,2.6, 75,3.4, 76,4.3, 77,5.3, 78,6.4, 79,7.6, 80,8.8, 81,10.1, 82,11.4, 83,12.7, 84,13.9, 85,15.0, 86,15.9, 86.5,16.5, 87.5,16.3, 88.5,16.6, 89.5,16.3, 90.5,16.5, 91.5,16.3, 92.5,16.6, 93,16.4,
      93.5,14.8, 94,13.0, 94.5,11.2, 95,9.6, 95.5,8.1, 96,6.8, 96.5,5.6, 97,4.6, 97.5,3.7, 98,3.0, 98.5,2.4, 99,1.9, 99.5,1.7, 100,2.0, 100.5,2.7, 101,3.6, 101.5,4.6, 102,5.7, 102.5,6.8, 103,7.9, 103.5,9.0, 104,10.1, 104.5,11.2, 105,12.3, 105.5,13.3, 106,14.3, 106.5,15.2, 107,16.0, 107.5,16.5, 108,16.3, 109,16.6, 110,16.3, 111,16.5, 112,16.4, 113,16.6, 114,16.3, 115,16.5, 116,16.3, 117,16.6, 118,16.4, 119,16.5];

    // drawing order, first is at the bottom
    const runs = [b1, k1, c1, c2, b2, r2, m1, k2, b3, r3, c3, m2, b4, r4, r1, y2, y1, g3, g2, g1];
    const runColors = ['#3d4fb5', '#6e6e6e', '#2fb6bf', '#2fb6bf', '#3d4fb5', '#e2402a', '#b52db8', '#6e6e6e', '#3d4fb5', '#e2402a',
                       '#2fb6bf', '#b52db8', '#3d4fb5', '#e2402a', '#e2402a', '#c4c21c', '#c4c21c', '#13891a', '#13891a', '#13891a'];

    function toPoints(flat) {
      var pts = [];
      for (var i = 0; i < flat.length; i += 2) pts.push({x: flat[i], y: flat[i + 1]});
      return pts;
    }

    // box and inward tick marks like a matlab axes
    const frame = {
      id: 'frame',
      afterDatasetsDraw(chart) {
        const ctx = chart.ctx, a = chart.chartArea, x = chart.scales.x, y = chart.scales.y;
        const L = Math.round(a.left) + 0.5, R = Math.round(a.right) + 0.5;
        const T = Math.round(a.top) + 0.5, B = Math.round(a.bottom) + 0.5;
        ctx.save();
        ctx.strokeStyle = '#111';
        ctx.lineWidth = 1;
        ctx.beginPath();
        xTicks.forEach(function (v) {
          const px = Math.round(x.getPixelForValue(v)) + 0.5;
          ctx.moveTo(px, B); ctx.lineTo(px, B - 5);
          ctx.moveTo(px, T); ctx.lineTo(px, T + 5);
        });
        yTicks.forEach(function (v) {
          const py = Math.round(y.getPixelForValue(v)) + 0.5;
          ctx.moveTo(L, py); ctx.lineTo(L + 5, py);
          ctx.moveTo(R, py); ctx.lineTo(R - 5, py);
        });
        ctx.rect(L, T, R - L, B - T);
        ctx.stroke();
        ctx.restore();
      }
    };

    Chart.defaults.font.family = "'Liberation Sans', Arial, sans-serif";
    Chart.defaults.color = '#222';

    const order = runs.map(function (r, i) { return i; }).reverse();
    var ctx = document.getElementById('myChart').getContext('2d');
    var chart = new Chart(ctx, {
      type: 'line',
      data: {
        datasets: order.map(function (i) {
          return {
            data: toPoints(runs[i]),
            borderColor: runColors[i],
            borderWidth: 1,
            pointRadius: 0,
            tension: 0,
            fill: false
          };
        })
      },
      options: {
        responsive: false,
        animation: false,
        parsing: false,
        layout: { padding: { left: 0, right: 17, top: 3, bottom: 2 } },
        plugins: {
          legend: { display: false },
          tooltip: { enabled: false },
          title: {
            display: true,
            fullSize: false,
            text: 'Speed Profile of the EV',
            color: '#111',
            font: { size: 20, weight: 'bold' },
            padding: { top: 0, bottom: 7 }
          }
        },
        scales: {
          x: {
            type: 'linear', min: 0, max: 140,
            afterBuildTicks: function (s) { s.ticks = xTicks.map(function (v) { return {value: v}; }); },
            ticks: { font: { size: 17 }, padding: 5, maxRotation: 0, color: '#222' },
            grid: { color: '#808080', drawTicks: false, lineWidth: 1 },
            border: { display: false, dash: [1, 3] },
            title: { display: true, text: 'Time [s]', font: { size: 20 }, color: '#222', padding: { top: 2, bottom: 0 } },
            afterFit: function (s) { s.height = 55; }
          },
          y: {
            type: 'linear', min: 0, max: 18,
            afterBuildTicks: function (s) { s.ticks = yTicks.map(function (v) { return {value: v}; }); },
            ticks: { font: { size: 17 }, padding: 9, color: '#222' },
            grid: { color: '#808080', drawTicks: false, lineWidth: 1 },
            border: { display: false, dash: [1, 3] },
            title: { display: true, text: 'Speed [m/s]', font: { size: 20 }, color: '#222', padding: { top: 8, bottom: 0 } },
            afterFit: function (s) { s.width = 67; }
          }
        }
      },
      plugins: [frame]
    });
  </script>
  </body>
</html>
